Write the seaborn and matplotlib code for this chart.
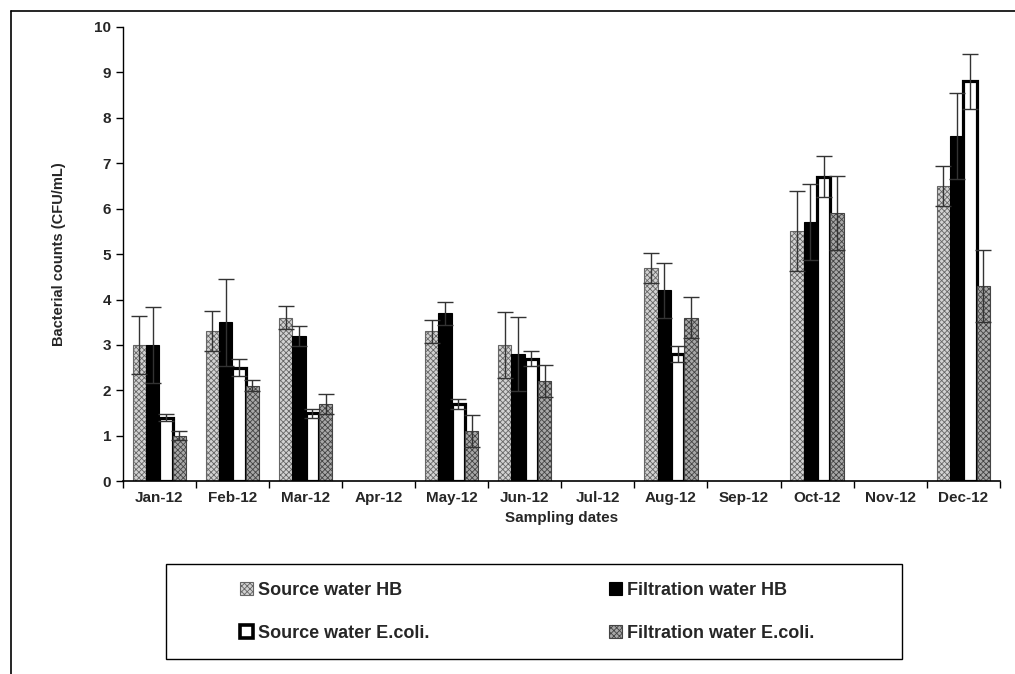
import numpy as np
import pandas as pd
import seaborn as sns
import matplotlib.pyplot as plt
from matplotlib.patches import Patch, Rectangle
from matplotlib.lines import Line2D

months = ['Jan-12', 'Feb-12', 'Mar-12', 'Apr-12', 'May-12', 'Jun-12',
          'Jul-12', 'Aug-12', 'Sep-12', 'Oct-12', 'Nov-12', 'Dec-12']
series = ['Source water HB', 'Filtration water HB',
          'Source water E.coli.', 'Filtration water E.coli.']

nan = np.nan
sw_hb = [3.0, 3.3, 3.6, nan, 3.3, 3.0, nan, 4.7, nan, 5.5, nan, 6.5]
fw_hb = [3.0, 3.5, 3.2, nan, 3.7, 2.8, nan, 4.2, nan, 5.7, nan, 7.6]
sw_ec = [1.4, 2.5, 1.5, nan, 1.7, 2.7, nan, 2.8, nan, 6.7, nan, 8.8]
fw_ec = [1.0, 2.1, 1.7, nan, 1.1, 2.2, nan, 3.6, nan, 5.9, nan, 4.3]

sw_hb_err = [0.63, 0.44, 0.25, nan, 0.25, 0.72, nan, 0.33, nan, 0.88, nan, 0.45]
fw_hb_err = [0.83, 0.96, 0.22, nan, 0.25, 0.82, nan, 0.60, nan, 0.84, nan, 0.95]
sw_ec_err = [0.07, 0.18, 0.10, nan, 0.10, 0.17, nan, 0.18, nan, 0.45, nan, 0.60]
fw_ec_err = [0.10, 0.12, 0.22, nan, 0.35, 0.35, nan, 0.45, nan, 0.81, nan, 0.80]

values = [sw_hb, fw_hb, sw_ec, fw_ec]
errors = [sw_hb_err, fw_hb_err, sw_ec_err, fw_ec_err]

rows = []
for s, v, e in zip(series, values, errors):
    for m, val, err in zip(months, v, e):
        rows.append([m, s, val, err])
df = pd.DataFrame(rows, columns=['month', 'series', 'value', 'err'])

sns.set_style('white')
plt.rcParams['font.family'] = ['Liberation Sans', 'DejaVu Sans']
plt.rcParams['font.weight'] = 'bold'
plt.rcParams['hatch.linewidth'] = 0.6

fig = plt.figure(figsize=(10.15, 6.74), dpi=100)
ax = fig.add_axes([0.121, 0.286, 0.864, 0.674])

sns.barplot(data=df.dropna(subset=['value']), x='month', y='value', hue='series',
            order=months, hue_order=series, width=0.73, gap=0,
            errorbar=None, ax=ax, legend=False)

styles = [dict(facecolor='#d2d2d2', edgecolor='#666666', hatch='xxxxxx', lw=0.8),
          dict(facecolor='black', edgecolor='black', hatch=None, lw=0.8),
          dict(facecolor='white', edgecolor='black', hatch=None, lw=2.3),
          dict(facecolor='#a8a8a8', edgecolor='#444444', hatch='xxxxxx', lw=0.8)]

bar_conts = list(ax.containers)
for i, cont in enumerate(bar_conts):
    st = styles[i]
    sub = df[df.series == series[i]].reset_index(drop=True)
    for bar in cont:
        bar.set_facecolor(st['facecolor'])
        bar.set_edgecolor(st['edgecolor'])
        bar.set_linewidth(st['lw'])
        if st['hatch']:
            bar.set_hatch(st['hatch'])
        xc = bar.get_x() + bar.get_width() / 2
        k = int(round(xc))
        ax.errorbar(xc, sub.value[k], yerr=sub.err[k], fmt='none',
                    ecolor='#333333', elinewidth=1, capsize=5.5, capthick=1, zorder=5)

ax.set_ylim(0, 10)
ax.set_yticks(range(0, 11))
ax.set_xlim(-0.5, 11.5)
ax.set_xticks(np.arange(-0.5, 12, 1))
ax.set_xticklabels([])
ax.set_xticks(range(12), minor=True)
ax.set_xticklabels(months, minor=True)
ax.tick_params(axis='x', which='major', direction='out', length=5, width=1, color='black', bottom=True)
ax.tick_params(axis='x', which='minor', length=0, labelsize=11, pad=7)
ax.tick_params(axis='y', direction='out', length=5, width=1, color='black', left=True, labelsize=11)
for lab in ax.get_xticklabels(minor=True) + ax.get_yticklabels():
    lab.set_fontweight('bold')

sns.despine(ax=ax)
ax.spines['left'].set_color('black')
ax.spines['bottom'].set_color('black')
ax.spines['left'].set_linewidth(1)
ax.spines['bottom'].set_linewidth(1.2)

ax.set_xlabel('Sampling dates', fontsize=11, fontweight='bold', labelpad=4)
ax.set_ylabel('Bacterial counts (CFU/mL)', fontsize=10.5, fontweight='bold', labelpad=20)

# legend: two columns, row-major order as in the original, inside a plain box
handles = [Patch(facecolor=st['facecolor'], edgecolor=st['edgecolor'],
                 hatch=st['hatch'], lw=st['lw'] if i != 2 else 2.6)
           for i, st in enumerate(styles)]
col_x = [240 / 1015, 609 / 1015]
for c in range(2):
    idx = [c, c + 2]
    fig.legend([handles[j] for j in idx], [series[j] for j in idx],
               loc='center left', bbox_to_anchor=(col_x[c], (674 - 612) / 674),
               frameon=False, borderpad=0, borderaxespad=0,
               prop={'size': 13, 'weight': 'bold'}, handlelength=0.72,
               handleheight=0.7, handletextpad=0.3, labelspacing=1.45)
fig.add_artist(Rectangle((166 / 1015, (674 - 659) / 674), 736 / 1015, 95 / 674,
                         transform=fig.transFigure, fill=False, edgecolor='black', lw=1))

# outer frame lines (left and top)
fig.add_artist(Line2D([0.0105, 0.0105], [0, 0.984], color='black', lw=1.2, transform=fig.transFigure))
fig.add_artist(Line2D([0.0105, 1.0], [0.984, 0.984], color='black', lw=1.2, transform=fig.transFigure))

fig.savefig('out.png', dpi=100)
